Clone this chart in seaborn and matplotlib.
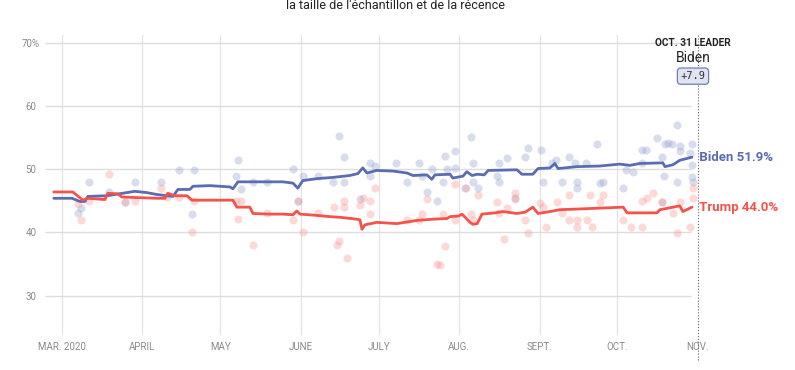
import numpy as np
import pandas as pd
import matplotlib
matplotlib.use('Agg')
import matplotlib.pyplot as plt
import seaborn as sns

### Dados (dias desde 1 de março de 2020, valor em %)
start = pd.Timestamp('2020-03-01')

biden_days = [-3.1, 3.9, 6.9, 8.9, 10, 17.3, 23.5, 28.1, 32.7, 36.6, 40.4, 42.8, 44.7, 49.3, 50.5, 57, 64.7,
              65.9, 67.8, 73.6, 85.1, 89, 90.9, 92.8, 98.2, 104.4, 110.9, 114, 115.9, 117.5, 121.3, 127.5,
              132.9, 135.2, 140.6, 142.5, 143.7, 149.5, 150.6, 154.5, 156, 158, 160, 162.7, 164.2, 175.3,
              177.2, 181.4, 183.4, 188, 189.9, 191.1, 198.4, 207.2, 214.9, 218.8, 222.6, 231.5, 232.3,
              235.4, 238, 242.7]
biden_vals = [45.4, 45.4, 44.9, 44.9, 45.7, 45.8, 46.2, 46.5, 46.3, 46.0, 45.8, 45.7, 46.8, 46.8, 47.3, 47.4, 47.2,
              46.9, 48.0, 48.0, 48.0, 47.8, 47.0, 48.2, 48.5, 48.7, 49.0, 49.3, 50.2, 49.4, 49.8, 49.7,
              49.4, 49.0, 49.1, 48.4, 49.1, 49.2, 48.6, 48.9, 49.6, 49.0, 49.2, 49.1, 49.8, 49.9,
              49.2, 49.2, 50.1, 50.2, 50.9, 50.1, 50.4, 50.5, 50.8, 50.6, 50.9, 51.0, 50.4,
              50.7, 51.4, 51.9]

trump_days = [-3.1, 4.2, 8.1, 10, 16.6, 17.7, 21.6, 23.1, 30, 36.6, 39.7, 40.8, 43.5, 48.2, 50.1, 65.9, 67.4,
              72.4, 73.6, 80.1, 85.1, 89, 90.5, 91.7, 98.2, 103.2, 107.1, 113.6, 114.8, 115.6, 116.7, 121.3,
              129, 136.7, 142.9, 148.3, 149.5, 152.9, 154.1, 155.6, 157.2, 158.3, 160, 161.8, 166.8, 169.9,
              175.3, 178.4, 181.4, 183.4, 188, 191.8, 198.4, 204.5, 216.2, 217.7, 229.2, 230.4, 238, 239.2,
              242.7]
trump_vals = [46.4, 46.4, 45.1, 45.4, 45.2, 46.2, 46.1, 45.6, 45.5, 45.4, 45.4, 46.2, 45.8, 45.8, 45.1, 45.1, 44.0,
              44.0, 43.0, 42.9, 42.9, 42.8, 43.4, 42.9, 42.7, 42.5, 42.4, 42.1, 42.0, 40.5, 41.2, 41.6,
              41.4, 41.9, 42.1, 42.2, 42.5, 42.6, 42.9, 42.3, 41.6, 41.3, 41.4, 42.9, 43.1, 43.3,
              43.0, 43.2, 44.0, 43.0, 43.3, 43.6, 43.7, 43.8, 44.0, 43.1, 43.1, 43.6, 44.2, 43.3,
              44.0]

# Sondagens individuais
biden_poll_days = [10.4, 6.2, 7.3, 18.1, 24.3, 28.1, 38.1, 45.1, 50.8, 50.1, 67.8, 67, 69, 73.6, 79,
                   89, 92.8, 98.6, 104.4, 106.7, 108.6, 108.6, 114.8, 118.6, 120.6, 118.6, 128.7, 132.9,
                   137.5, 138.7, 140.6, 142.5, 144.5, 146.8, 147.5, 148.3, 151.4, 151.4, 157.5, 158.3,
                   160.2, 155.2, 90.9, 158.3, 167.6, 168.3, 168.3, 171.4, 174.5, 178.4, 179.5, 184.5, 185.3,
                   188.8, 190.3, 192.6, 195.3, 197.6, 198.4, 198.4, 201.8, 206.1, 207.2, 208.4, 216.1,
                   217.3, 219.9, 223.4, 225, 223.4, 229.2, 231.1, 232.3, 231.9, 235, 237, 238.2, 238.2,
                   237, 242, 242.7, 242.7, 242.7, 231.1, 233.5, 243.1]
biden_poll_vals = [48.0, 43.0, 43.8, 46.4, 44.8, 48.0, 48.0, 49.9, 49.9, 42.9, 51.4, 48.9, 46.8, 48.0, 48.0,
                   50.0, 48.9, 48.9, 47.9, 55.2, 51.9, 47.9, 45.3, 50.9, 50.5, 48.9, 50.9, 47.9,
                   50.9, 48.9, 46.4, 50.0, 44.9, 47.9, 52.1, 50.0, 52.8, 50.2, 55.1, 50.9,
                   47.0, 47.0, 44.9, 48.0, 48.9, 50.9, 47.9, 51.7, 45.4, 51.9, 53.3, 53.0, 47.9,
                   50.9, 51.4, 47.9, 51.9, 50.9, 47.9, 47.0, 50.9, 54.0, 47.8, 47.9, 47.0,
                   49.8, 49.5, 53.0, 53.0, 50.9, 54.9, 51.9, 53.9, 48.9, 53.9, 57.0, 53.6, 52.8,
                   47.9, 52.5, 53.9, 50.6, 48.7, 44.8, 54.1, 47.9]

trump_poll_days = [18.1, 6.2, 7.3, 10.4, 24.3, 28.1, 38.1, 40.4, 45.1, 50.8, 50.1, 67, 69, 67.8, 73.6, 79,
                   89, 90.9, 92.8, 98.6, 104.8, 105.9, 106.7, 108.6, 108.6, 109.8, 114.8, 115.9, 118.6,
                   118.6, 120.6, 132.9, 137.5, 138.7, 140.6, 144.5, 146.8, 147.5, 151.4, 151.4, 155.6,
                   157.5, 158.3, 160.2, 167.6, 168.3, 170.3, 171.4, 174.5, 174.5, 178.4, 179.5, 184.1,
                   185.3, 186.4, 190.7, 192.6, 195.3, 195.3, 198.4, 198.4, 202.2, 203.4, 204.2, 207.2,
                   208.4, 216.1, 219.2, 223.4, 223.4, 225.3, 227.7, 231.1, 235.4, 237, 238.2, 242, 243.1,
                   243.1, 145.6]
trump_poll_vals = [49.2, 44.5, 42.0, 44.9, 44.8, 44.9, 47.0, 45.6, 45.6, 44.9, 40.0, 44.9, 44.9, 42.1, 38.0, 43.0,
                   41.9, 44.9, 40.0, 43.0, 44.0, 38.0, 38.6, 44.0, 44.9, 35.9, 44.3, 45.4, 44.9,
                   42.9, 47.0, 41.9, 41.9, 42.9, 45.3, 35.0, 42.9, 37.8, 47.6, 41.9, 47.0,
                   42.9, 41.9, 45.9, 44.8, 43.0, 39.0, 43.8, 46.2, 45.3, 41.9, 39.9, 44.6,
                   44.0, 40.8, 44.8, 43.0, 45.9, 41.9, 41.9, 40.8, 41.9, 45.9, 40.8, 44.8,
                   45.9, 41.9, 40.8, 44.9, 40.8, 45.4, 46.2, 44.8, 43.0, 39.9, 44.8, 40.8, 45.4,
                   47.0, 34.8]

month_labels = ['MAR. 2020', 'APRIL', 'MAY', 'JUNE', 'JULY', 'AUG.', 'SEPT.', 'OCT.', 'NOV.']
y_ticks = [30, 40, 50, 60, 70]
y_labels = ['30', '40', '50', '60', '70%']

blue = '#5a6cb2'
red = '#f4524b'

def to_dates(days):
    return start + pd.to_timedelta(np.array(days), unit='D')

df_b = pd.DataFrame({'date': to_dates(biden_days), 'val': biden_vals})
df_t = pd.DataFrame({'date': to_dates(trump_days), 'val': trump_vals})
df_bp = pd.DataFrame({'date': to_dates(biden_poll_days), 'val': biden_poll_vals})
df_tp = pd.DataFrame({'date': to_dates(trump_poll_days), 'val': trump_poll_vals})

### Plot
sns.set_theme(style='white')
plt.rcParams['font.family'] = ['Roboto', 'DejaVu Sans']

fig = plt.figure(figsize=(7.95, 3.7), dpi=100)
ax = fig.add_axes([45/795, 35/370, 655/795, 300/370])

x0 = start - pd.Timedelta(days=6.5)
x1 = start + pd.Timedelta(days=245.8)
ax.set_xlim(x0, x1)
ax.set_ylim(23.8, 71.2)

# grade
months = pd.date_range('2020-03-01', '2020-11-01', freq='MS')
for m in months[:-1]:
    ax.axvline(m, color='#e3e3e3', lw=0.9, zorder=0)
ax.hlines(y_ticks, x0, start + pd.Timedelta(days=242.3), color='#dddddd', lw=1, zorder=0)

sns.scatterplot(data=df_bp, x='date', y='val', color='#9aa6d2', alpha=0.38, s=34, linewidth=0, ax=ax, zorder=1)
sns.scatterplot(data=df_tp, x='date', y='val', color='#f99a96', alpha=0.38, s=34, linewidth=0, ax=ax, zorder=1)
sns.lineplot(data=df_b, x='date', y='val', color=blue, lw=2, ax=ax, zorder=3)
sns.lineplot(data=df_t, x='date', y='val', color=red, lw=2, ax=ax, zorder=3)

ax.set_xticks(months)
ax.set_xticklabels(month_labels)
ax.set_yticks(y_ticks)
ax.set_yticklabels(y_labels)
ax.tick_params(axis='x', length=0, pad=5, labelsize=7, labelcolor='#8a8a8a')
ax.tick_params(axis='y', length=0, pad=10, labelsize=7, labelcolor='#8a8a8a')
for t in ax.get_yticklabels():
    t.set_horizontalalignment('center')
ax.set_xlabel('')
ax.set_ylabel('')
for s in ax.spines.values():
    s.set_visible(False)

# linha pontilhada de 31 de outubro
nov = start + pd.Timedelta(days=245)
ax.plot([nov, nov], [19.8, 71.2], color='#666666', lw=0.8, ls=':', clip_on=False, zorder=4)

lab_x = start + pd.Timedelta(days=244.3)
ax.text(lab_x, 51.9, ' Biden 51.9%', color=blue, fontsize=9.5, fontweight='bold', va='center', ha='left', clip_on=False)
ax.text(lab_x, 44.0, ' Trump 44.0%', color=red, fontsize=9.5, fontweight='bold', va='center', ha='left', clip_on=False)

top_x = start + pd.Timedelta(days=243.1)
ax.text(top_x, 69.9, 'OCT. 31 LEADER', fontsize=7.3, fontweight='bold', color='#222222', ha='center', va='center')
ax.text(top_x, 67.5, 'Biden', fontsize=10, color='#222222', ha='center', va='center')
ax.text(top_x, 64.7, '+7.9', fontsize=7.5, family='DejaVu Sans Mono', color='#333333', ha='center', va='center',
        zorder=5, bbox=dict(boxstyle='round,pad=0.3', fc='#dfe3f2', ec='#6f7fbb', lw=0.9))

fig.text(0.497, 0.984, "la taille de l'échantillon et de la récence", ha='center', va='center',
         fontsize=9, color='#222222')

fig.savefig('out.png', dpi=100)
